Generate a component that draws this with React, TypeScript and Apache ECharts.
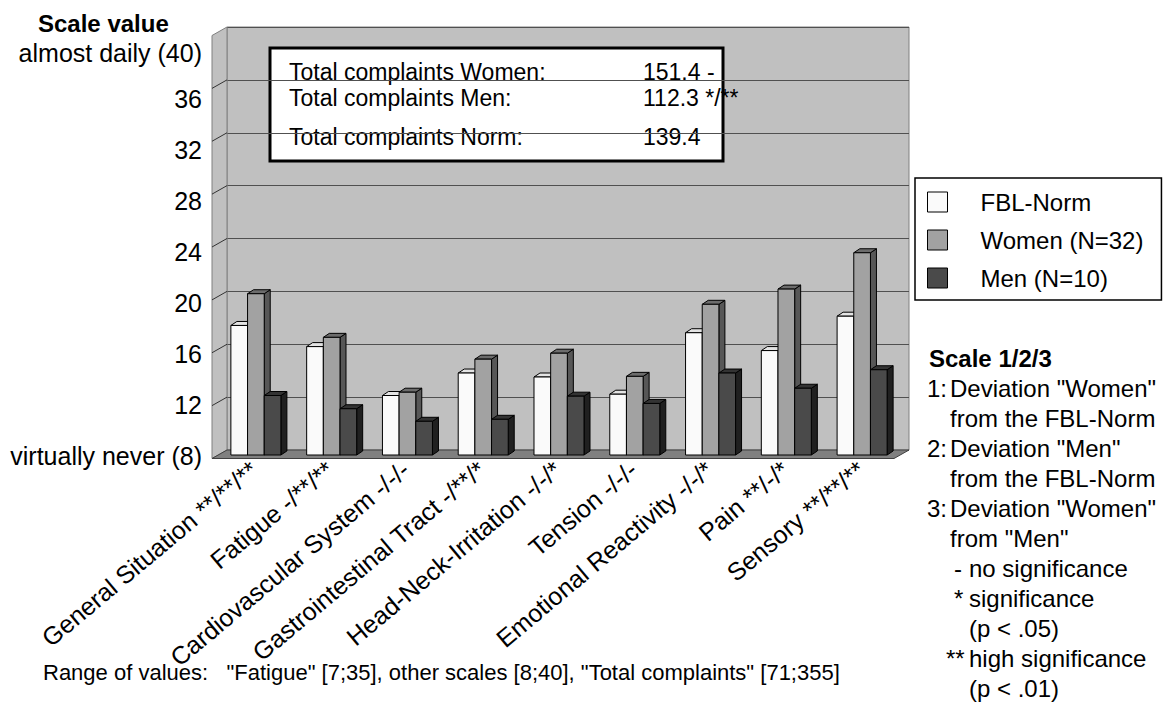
import { useEffect, useRef } from "react";
import * as echarts from "echarts";

// ---- data ----
const CATEGORIES = [
  "General Situation **/**/**",
  "Fatigue -/**/**",
  "Cardiovascular System -/-/-",
  "Gastrointestinal Tract -/**/*",
  "Head-Neck-Irritation -/-/*",
  "Tension -/-/-",
  "Emotional Reactivity -/-/*",
  "Pain **/-/*",
  "Sensory **/**/**",
];
const SERIES_NAMES = ["FBL-Norm", "Women (N=32)", "Men (N=10)"];
const NORM = [17.8, 16.2, 12.5, 14.2, 13.9, 12.6, 17.25, 15.9, 18.5];
const WOMEN = [20.2, 16.9, 12.75, 15.25, 15.7, 13.95, 19.4, 20.55, 23.3];
const MEN = [12.5, 11.5, 10.55, 10.7, 12.45, 11.9, 14.2, 13.05, 14.45];
const Y_MIN = 8;
const Y_MAX = 40;
const Y_STEP = 4;
const Y_TICK_LABELS = [
  "virtually never (8)",
  "12",
  "16",
  "20",
  "24",
  "28",
  "32",
  "36",
  "almost daily (40)",
];
const TOTALS = [
  ["Total complaints Women:", "151.4 -"],
  ["Total complaints Men:", "112.3 */**"],
  ["Total complaints Norm:", "139.4"],
];
const SCALE_NOTES: [string, string][] = [
  ["1:", 'Deviation "Women"'],
  ["", "from the FBL-Norm"],
  ["2:", 'Deviation "Men"'],
  ["", "from the FBL-Norm"],
  ["3:", 'Deviation "Women"'],
  ["", 'from "Men"'],
];
const SIG_NOTES: [string, string][] = [
  ["-", "no significance"],
  ["*", "significance"],
  ["", "(p < .05)"],
  ["**", "high significance"],
  ["", "(p < .01)"],
];
const RANGE_NOTE =
  'Range of values:   "Fatigue" [7;35], other scales [8;40], "Total complaints" [71;355]';

// ---- look ----
const FONT = "'Liberation Sans', Arial, sans-serif";
const FS = 24;
const AXIS_FS = 25;
const WALL_DX = -15; // projection of the wall depth
const WALL_DY = 8.5;
const BAR_DX = 6; // projection of a column's depth
const BAR_DY = -4;
const BAR_RATIO = 0.22;
const BAR_COLORS = [
  { front: "#fafafa", top: "#e4e4e4", side: "#b8b8b8" },
  { front: "#a2a2a2", top: "#6c6c6c", side: "#575757" },
  { front: "#4a4a4a", top: "#333333", side: "#202020" },
];

function barRenderer(slot: number) {
  const c = BAR_COLORS[slot];
  return (params: any, api: any) => {
    const cat = api.value(0);
    const val = api.value(1);
    const top = api.coord([cat, val]);
    const base = api.coord([cat, Y_MIN]);
    const band = api.size([1, 0])[0];
    const w = band * BAR_RATIO;
    const x = top[0] + (slot - 1.5) * w;
    const yT = top[1];
    const yB = base[1];
    const stroke = { stroke: "#000", lineWidth: 1 };
    return {
      type: "group",
      children: [
        {
          type: "polygon",
          shape: {
            points: [
              [x + w, yT],
              [x + w + BAR_DX, yT + BAR_DY],
              [x + w + BAR_DX, yB + BAR_DY],
              [x + w, yB],
            ],
          },
          style: { fill: c.side, ...stroke },
        },
        {
          type: "polygon",
          shape: {
            points: [
              [x, yT],
              [x + w, yT],
              [x + w + BAR_DX, yT + BAR_DY],
              [x + BAR_DX, yT + BAR_DY],
            ],
          },
          style: { fill: c.top, ...stroke },
        },
        {
          type: "rect",
          shape: { x, y: yT, width: w, height: yB - yT },
          style: { fill: c.front, ...stroke },
        },
      ],
    };
  };
}

function wallsRenderer(params: any, api: any) {
  const cs = params.coordSys;
  const x0 = cs.x;
  const y0 = cs.y;
  const w = cs.width;
  const h = cs.height;
  const children: any[] = [
    {
      type: "polygon",
      shape: {
        points: [
          [x0 + WALL_DX, y0 + WALL_DY],
          [x0, y0],
          [x0, y0 + h],
          [x0 + WALL_DX, y0 + h + WALL_DY],
        ],
      },
      style: { fill: "#c0c0c0", stroke: "#808080", lineWidth: 1 },
    },
    {
      type: "polygon",
      shape: {
        points: [
          [x0, y0 + h],
          [x0 + w, y0 + h],
          [x0 + w + WALL_DX, y0 + h + WALL_DY],
          [x0 + WALL_DX, y0 + h + WALL_DY],
        ],
      },
      style: { fill: "#808080", stroke: "#404040", lineWidth: 1 },
    },
  ];
  for (let v = Y_MIN + Y_STEP; v < Y_MAX; v += Y_STEP) {
    const y = api.coord([0, v])[1];
    children.push({
      type: "line",
      shape: { x1: x0 + WALL_DX, y1: y + WALL_DY, x2: x0, y2: y },
      style: { stroke: "#333", lineWidth: 1 },
    });
  }
  return { type: "group", children };
}

function txt(x: number, y: number, text: string, extra: any = {}) {
  return {
    type: "text",
    x,
    y,
    style: {
      text,
      fontSize: FS,
      fontFamily: FONT,
      fill: "#000",
      verticalAlign: "middle",
      align: "left",
      ...extra,
    },
  };
}

function buildOption() {
  const valueAxisBase = { type: "value", min: Y_MIN, max: Y_MAX, interval: Y_STEP };
  const graphics: any[] = [];
  graphics.push(txt(38, 23, "Scale value", { fontWeight: "bold" }));
  // totals box
  graphics.push({
    type: "rect",
    shape: { x: 270, y: 48, width: 453, height: 113 },
    style: { fill: "#fff", stroke: "#000", lineWidth: 3 },
  });
  const totalYs = [72, 98, 137];
  TOTALS.forEach((row, i) => {
    graphics.push(txt(289, totalYs[i], row[0], { fontSize: 23 }));
    graphics.push(txt(643, totalYs[i], row[1], { fontSize: 23 }));
  });
  // scale notes
  graphics.push(txt(929, 358, "Scale 1/2/3", { fontWeight: "bold" }));
  let y = 388;
  SCALE_NOTES.forEach((row) => {
    if (row[0]) graphics.push(txt(927, y, row[0]));
    graphics.push(txt(950, y, row[1]));
    y += 30;
  });
  SIG_NOTES.forEach((row) => {
    if (row[0]) graphics.push(txt(row[0] === "**" ? 946 : 954, y, row[0]));
    graphics.push(txt(969, y, row[1]));
    y += 30;
  });
  graphics.push(txt(43, 672, RANGE_NOTE, { fontSize: 22 }));

  const series: any[] = [
    {
      type: "custom",
      name: "walls",
      xAxisIndex: 0,
      yAxisIndex: 0,
      silent: true,
      z: 1,
      renderItem: wallsRenderer,
      data: [[0, Y_MIN]],
    },
  ];
  [NORM, WOMEN, MEN].forEach((vals, s) => {
    series.push({
      type: "custom",
      name: SERIES_NAMES[s],
      xAxisIndex: 1,
      yAxisIndex: 1,
      z: 3,
      itemStyle: { color: BAR_COLORS[s].front },
      renderItem: barRenderer(s),
      encode: { x: 0, y: 1 },
      data: vals.map((v, i) => [i, v]),
    });
  });

  return {
    animation: false,
    backgroundColor: "#fff",
    textStyle: { fontFamily: FONT },
    grid: [
      // back wall
      {
        left: 227,
        top: 27,
        width: 682,
        height: 423,
        show: true,
        backgroundColor: "#c0c0c0",
        borderColor: "#808080",
        borderWidth: 1,
      },
      // columns
      { left: 218, top: 32, width: 682, height: 423 },
      // axis labels along the front edge
      { left: 216, top: 48, width: 683, height: 408 },
    ],
    xAxis: [
      { type: "category", gridIndex: 0, data: CATEGORIES, show: false },
      { type: "category", gridIndex: 1, data: CATEGORIES, show: false },
      {
        type: "category",
        gridIndex: 2,
        data: CATEGORIES,
        axisLine: { show: false },
        axisTick: { show: false },
        axisLabel: {
          interval: 0,
          rotate: 40,
          margin: 10,
          fontSize: AXIS_FS,
          fontFamily: FONT,
          color: "#000",
        },
      },
    ],
    yAxis: [
      {
        ...valueAxisBase,
        gridIndex: 0,
        axisLine: { show: false },
        axisTick: { show: false },
        axisLabel: { show: false },
        splitLine: { show: true, lineStyle: { color: "#505050", width: 1 } },
      },
      { ...valueAxisBase, gridIndex: 1, show: false },
      {
        ...valueAxisBase,
        gridIndex: 2,
        axisLine: { show: false },
        axisTick: { show: false },
        splitLine: { show: false },
        axisLabel: {
          margin: 14,
          fontSize: AXIS_FS,
          fontFamily: FONT,
          color: "#000",
          formatter: (v: number) => {
            const s = Y_TICK_LABELS[Math.round((v - Y_MIN) / Y_STEP)];
            return v === Y_MAX ? `{top|${s}}` : s;
          },
          rich: {
            top: { fontSize: AXIS_FS, fontFamily: FONT, color: "#000", padding: [10, 0, 0, 0] },
          },
        },
      },
    ],
    legend: {
      orient: "vertical",
      left: 915,
      top: 178,
      padding: [12, 18, 10, 12],
      borderColor: "#000",
      borderWidth: 1.5,
      itemWidth: 20,
      itemHeight: 20,
      itemGap: 14,
      icon: "rect",
      textStyle: {
        fontSize: FS,
        fontFamily: FONT,
        color: "#000",
        lineHeight: 24,
        padding: [0, 0, 0, 28],
      },
      data: SERIES_NAMES.map((n, i) => ({
        name: n,
        itemStyle: { color: BAR_COLORS[i].front, borderColor: "#000", borderWidth: 1 },
      })),
    },
    graphic: graphics,
    series,
  };
}

export default function App() {
  const ref = useRef<HTMLDivElement>(null);
  useEffect(() => {
    document.body.style.margin = "0";
    const chart = echarts.init(ref.current!, null, { renderer: "svg" });
    chart.setOption(buildOption() as any);
    return () => chart.dispose();
  }, []);
  return <div ref={ref} style={{ width: 1173, height: 702 }} />;
}
